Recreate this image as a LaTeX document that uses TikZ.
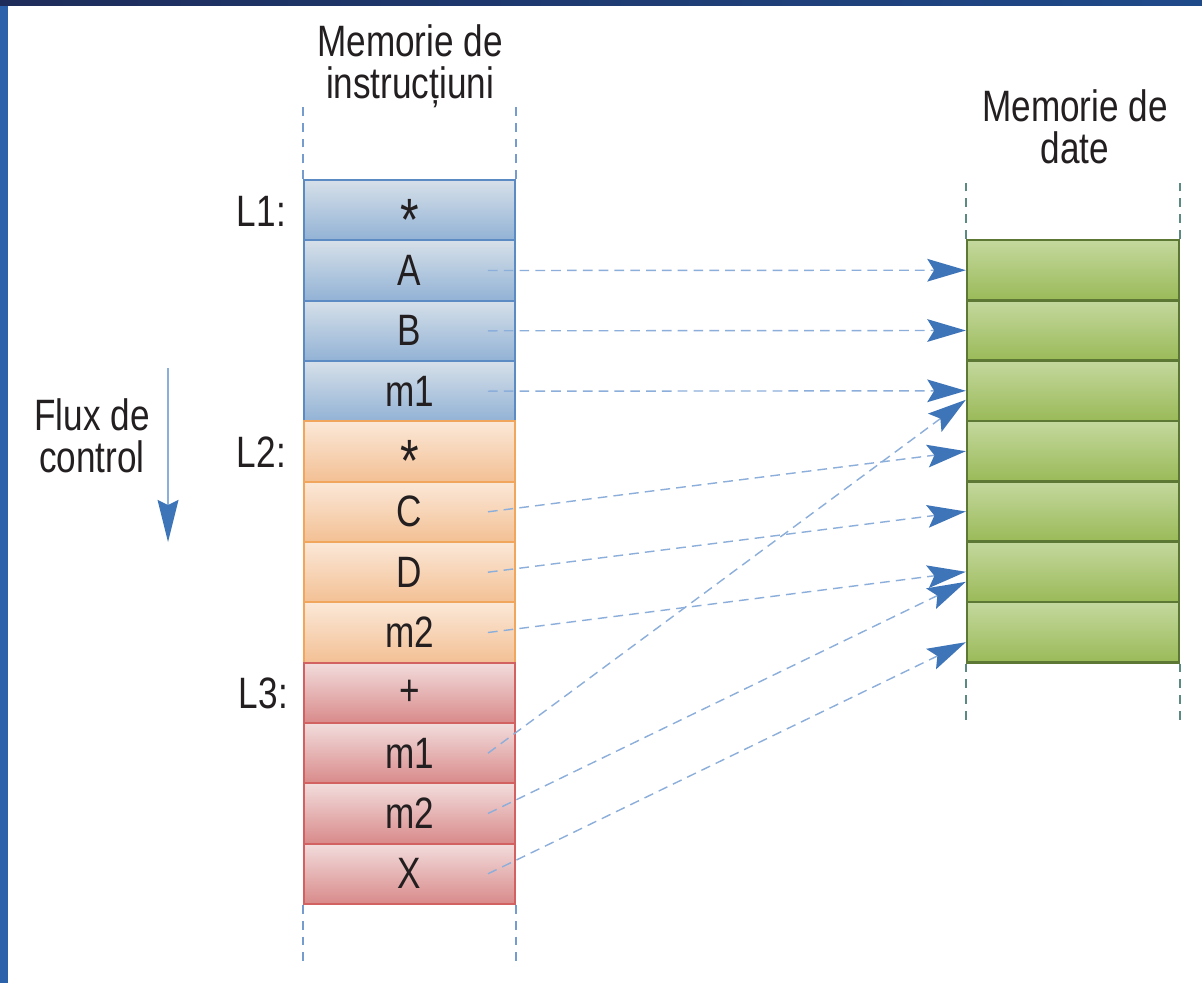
\documentclass[tikz,border=0pt]{standalone}
\usepackage{fontspec}
\setmainfont{Liberation Sans}[FakeStretch=0.8]
\usetikzlibrary{arrows.meta}

\definecolor{framel}{RGB}{44,98,170}
\definecolor{framedk}{RGB}{30,44,90}
\definecolor{frametr}{RGB}{31,74,138}
\definecolor{txt}{RGB}{35,31,32}
\definecolor{blueline}{RGB}{92,139,196}
\definecolor{bluetop}{RGB}{214,224,233}
\definecolor{bluebot}{RGB}{146,178,213}
\definecolor{orline}{RGB}{240,166,92}
\definecolor{ortop}{RGB}{251,232,216}
\definecolor{orbot}{RGB}{243,192,148}
\definecolor{redline}{RGB}{210,98,98}
\definecolor{redtop}{RGB}{242,220,220}
\definecolor{redbot}{RGB}{217,138,138}
\definecolor{grline}{RGB}{93,120,52}
\definecolor{grtop}{RGB}{196,216,158}
\definecolor{grbot}{RGB}{154,186,88}
\definecolor{arrhead}{RGB}{62,116,184}
\definecolor{arrline}{RGB}{140,174,218}
\definecolor{tealdash}{RGB}{90,138,128}

\newcommand{\opstar}{{\fontsize{34}{34}\selectfont\raisebox{-0.508em}[0pt][0pt]{*}}}

\begin{document}
\begin{tikzpicture}[x=0.02cm,y=-0.02cm,font=\fontsize{25}{24}\selectfont,text=txt]
            \tikzstyle{c}=[rectangle,draw,line width=1.1pt,minimum width=4.22cm,minimum height=1.207cm,inner sep=0pt]
            \tikzstyle{bl}=[c,draw=blueline,top color=bluetop,bottom color=bluebot]
            \tikzstyle{or}=[c,draw=orline,top color=ortop,bottom color=orbot]
            \tikzstyle{rd}=[c,draw=redline,top color=redtop,bottom color=redbot]
            \tikzstyle{gr}=[c,draw=grline,line width=1.4pt,minimum width=4.24cm,top color=grtop,bottom color=grbot]
            \tikzstyle{p}=[arrline,line width=0.8pt,dash pattern=on 5.5pt off 3.5pt,
              -{Stealth[length=22pt,width=13pt,inset=4pt,color=arrhead,fill=arrhead,line width=0pt]}]
            \tikzstyle{vb}=[blueline!85,line width=1.1pt,dash pattern=on 5pt off 4pt]
            \tikzstyle{vg}=[tealdash,line width=1.1pt,dash pattern=on 5pt off 4pt]

            % frame
            \useasboundingbox (0,0) rectangle (1202,983);
            \fill[framel] (0,0) rectangle (1202,983);
            \shade[left color=framedk,right color=frametr] (0,0) rectangle (1202,6);
            \fill[white] (8,6) rectangle (1212,993);

            % memorie de instructiuni
            \node[align=center] (titi) at (410,66) {Memorie de\\instruc\char"021B iuni};
            \node[bl] (l1op) at (409.5,210.2) {\opstar};
            \node[bl] (l1a) at (409.5,270.5) {A};
            \node[bl] (l1b) at (409.5,330.8) {B};
            \node[bl] (l1m) at (409.5,391.2) {m1};
            \node[or] (l2op) at (409.5,451.5) {\opstar};
            \node[or] (l2c) at (409.5,511.8) {C};
            \node[or] (l2d) at (409.5,572.2) {D};
            \node[or] (l2m) at (409.5,632.5) {m2};
            \node[rd] (l3op) at (409.5,692.8) {+};
            \node[rd] (l3m1) at (409.5,753.2) {m1};
            \node[rd] (l3m2) at (409.5,813.5) {m2};
            \node[rd] (l3x) at (409.5,873.8) {X};
            \draw[vb] (l1op.north west) -- ++(0,-75);
            \draw[vb] (l1op.north east) -- ++(0,-75);
            \draw[vb] (l3x.south west) -- ++(0,61);
            \draw[vb] (l3x.south east) -- ++(0,61);

            \node[anchor=east] (lab1) at (292,211) {L1:};
            \node[anchor=east] (lab2) at (292,452) {L2:};
            \node[anchor=east] (lab3) at (294,693) {L3:};

            % flux de control
            \node[align=center] (flux) at (92,436) {Flux de\\control};
            \coordinate (fs) at (168,368);
            \coordinate (fe) at (168,542);
            \draw[arrline,line width=0.8pt,-{Stealth[length=24pt,width=12pt,inset=3pt,color=arrhead,fill=arrhead,line width=0pt]}] (fs) -- (fe);

            % memorie de date
            \node[align=center] (titd) at (1075,127) {Memorie de\\date};
            \node[gr] (d1) at (1073,270.2) {};
            \node[gr] (d2) at (1073,330.5) {};
            \node[gr] (d3) at (1073,390.8) {};
            \node[gr] (d4) at (1073,451.2) {};
            \node[gr] (d5) at (1073,511.5) {};
            \node[gr] (d6) at (1073,571.8) {};
            \node[gr] (d7) at (1073,632.2) {};
            \draw[vg] (d1.north west) -- ++(0,-60);
            \draw[vg] (d1.north east) -- ++(0,-60);
            \draw[vg] (d7.south west) -- ++(0,60);
            \draw[vg] (d7.south east) -- ++(0,60);

            % acces la date
            \draw[p] ([xshift=-0.56cm]l1a.east) -- (d1.west);
            \draw[p] ([xshift=-0.56cm]l1b.east) -- (d2.west);
            \draw[p] ([xshift=-0.56cm]l1m.east) -- (d3.west);
            \draw[p] ([xshift=-0.56cm]l2c.east) -- (d4.west);
            \draw[p] ([xshift=-0.56cm]l2d.east) -- (d5.west);
            \draw[p] ([xshift=-0.56cm]l2m.east) -- (d6.west);
            \draw[p] ([xshift=-0.56cm]l3m1.east) -- ([yshift=-0.18cm]d3.west);
            \draw[p] ([xshift=-0.56cm]l3m2.east) -- ([yshift=-0.2cm]d6.west);
            \draw[p] ([xshift=-0.56cm]l3x.east) -- ([yshift=-0.2cm]d7.west);
\end{tikzpicture}
\end{document}
